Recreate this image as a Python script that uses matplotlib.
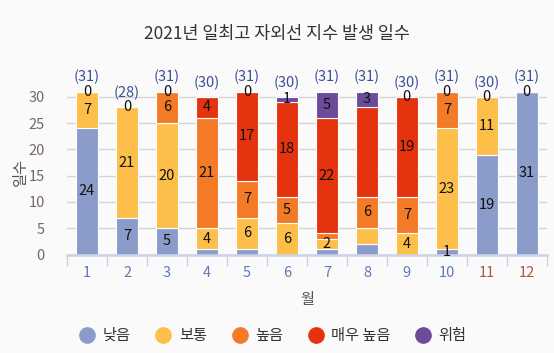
import matplotlib
matplotlib.use("Agg")
import matplotlib.pyplot as plt
from matplotlib.lines import Line2D
import numpy as np

plt.rcParams["font.family"] = ["Noto Sans CJK KR", "DejaVu Sans"]

months = ["1", "2", "3", "4", "5", "6", "7", "8", "9", "10", "11", "12"]
series_names = ["낮음", "보통", "높음", "매우 높음", "위험"]
low = [24, 7, 5, 1, 1, 0, 1, 2, 0, 1, 19, 31]
normal = [7, 21, 20, 4, 6, 6, 2, 3, 4, 23, 11, 0]
high = [0, 0, 6, 21, 7, 5, 1, 6, 7, 7, 0, 0]
very_high = [0, 0, 0, 4, 17, 18, 22, 17, 19, 0, 0, 0]
danger = [0, 0, 0, 0, 0, 1, 5, 3, 0, 0, 0, 0]
# which series labels are visible in each month (the rest overlap and are hidden)
shown_labels = [
    [0, 1, 4], [0, 1, 4], [0, 1, 2, 4], [1, 2, 3],
    [1, 2, 3, 4], [1, 2, 3, 4], [1, 3, 4], [2, 4],
    [1, 2, 3, 4], [0, 1, 2, 4], [0, 1, 4], [0, 4],
]

colors = ["#8c9cca", "#fdbf4a", "#f37a27", "#e5330f", "#6c4b9b"]
data = [low, normal, high, very_high, danger]

fig = plt.figure(figsize=(5.54, 3.53), dpi=100)
fig.patch.set_facecolor("#fafafa")
ax = fig.add_axes([0.121, 0.279, 0.866, 0.469])
ax.set_facecolor("#fafafa")

x = np.arange(len(months))
bottom = np.zeros(len(months))
for si, vals in enumerate(data):
    vals = np.array(vals, dtype=float)
    ax.bar(x, vals, 0.54, bottom=bottom, color=colors[si],
           edgecolor="white", linewidth=0.8, zorder=2)
    for mi, v in enumerate(vals):
        if si not in shown_labels[mi]:
            continue
        ax.text(mi, bottom[mi] + v / 2, f"{int(v)}", ha="center", va="center",
                fontsize=10.5, color="#111111", zorder=3)
    bottom += vals

totals = bottom
for mi, t in enumerate(totals):
    ax.annotate(f"({int(t)})", (mi, t), xytext=(0, 5), textcoords="offset points",
                ha="center", va="bottom", fontsize=10.5, color="#3f4f95")

ax.set_xlim(-0.5, len(months) - 0.5)
ax.set_ylim(0, 31.5)
ax.set_yticks(range(0, 31, 5))
ax.yaxis.grid(True, color="#d4d4d4", linewidth=1, zorder=0)
for s in ["top", "right", "left"]:
    ax.spines[s].set_visible(False)
ax.spines["bottom"].set_color("#ccd3e6")
ax.spines["bottom"].set_linewidth(1.8)
ax.tick_params(axis="y", length=0, labelsize=10.5, labelcolor="#76686a", pad=16)

ax.set_xticks(x)
ax.set_xticklabels(months, fontsize=10.5)
ax.tick_params(axis="x", length=0, pad=8)
for i, lbl in enumerate(ax.get_xticklabels()):
    lbl.set_color("#5a7cb3" if i < 10 else "#a25a44")
ax.set_xticks(np.arange(-0.5, len(months)), minor=True)
ax.tick_params(axis="x", which="minor", length=8, width=1, color="#ccd3e6", direction="out")

ax.set_xlabel("월", fontsize=11, color="#555555", labelpad=8, fontweight="medium")
ax.set_ylabel("일수", fontsize=11, color="#555555", labelpad=0, fontweight="medium")

fig.suptitle("2021년 일최고 자외선 지수 발생 일수", x=0.5, y=0.928,
             fontsize=12.5, color="#333333")

handles = [Line2D([], [], marker="o", linestyle="", markersize=11,
                  markerfacecolor=c, markeredgecolor=c) for c in colors]
fig.legend(handles, series_names, loc="center", bbox_to_anchor=(0.493, 0.05),
           ncol=5, frameon=False, handlelength=1.0, handletextpad=0.5,
           columnspacing=1.65, labelcolor="#333333",
           prop={"weight": "medium", "size": 11})

fig.savefig("out.png", dpi=100, facecolor=fig.get_facecolor())
